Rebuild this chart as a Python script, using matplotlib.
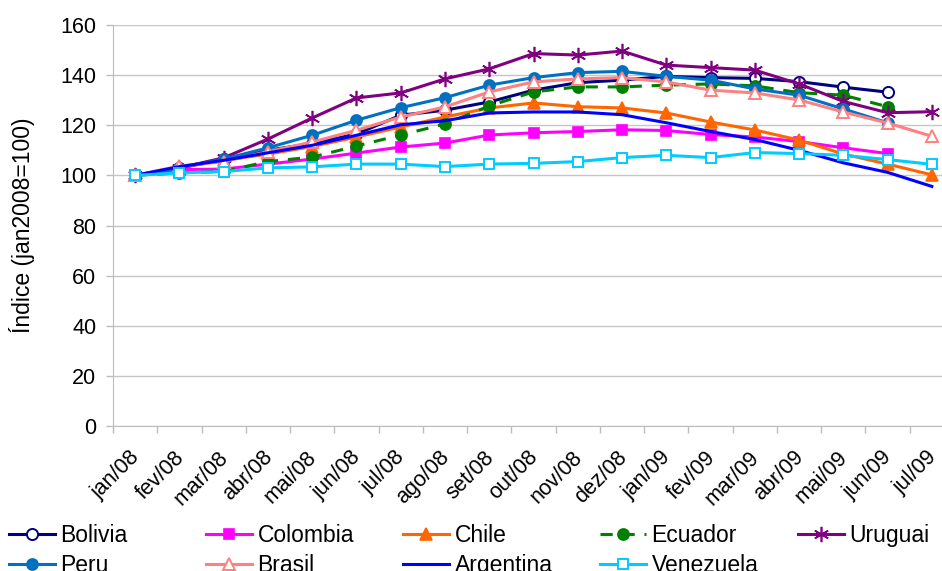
import matplotlib
matplotlib.use("Agg")
import matplotlib.pyplot as plt
import matplotlib.transforms as mtransforms
import numpy as np

plt.rcParams['font.family'] = ['Liberation Sans', 'DejaVu Sans']

months = ['jan/08', 'fev/08', 'mar/08', 'abr/08', 'mai/08', 'jun/08', 'jul/08',
          'ago/08', 'set/08', 'out/08', 'nov/08', 'dez/08', 'jan/09', 'fev/09',
          'mar/09', 'abr/09', 'mai/09', 'jun/09', 'jul/09']

bolivia = [100, 103, 106.5, 110, 112.7, 116.5, 124, 126, 129.3, 134, 137, 138,
           139.5, 139, 138.7, 137.4, 135.2, 133.2, None]
colombia = [100, 102.3, 102.5, 104.5, 106.5, 108.9, 111.3, 112.9, 116.1, 117,
            117.5, 118.2, 117.9, 116.3, 115.3, 113.5, 111, 108.7, None]
chile = [100, 103, 106, 108.5, 111.5, 115.3, 119.3, 123.3, 126.9, 128.9, 127.4,
         126.9, 124.9, 121.3, 118.1, 114.1, 108.5, 104.5, 100.2]
ecuador = [100, 101, 101.6, 105.5, 107.3, 111.7, 116.1, 120.5, 127.7, 133.3,
           135.3, 135.3, 136, 136.5, 135.7, 133, 132, 127.4, None]
uruguai = [100, 103, 107, 114.5, 122.9, 130.9, 132.9, 138.5, 142.5, 148.6, 148,
           149.6, 144, 143, 142, 136.5, 129.5, 125, 125.4]
peru = [100, 103, 106.5, 111, 116, 122, 127, 131, 136, 139, 141, 141.5, 139.5,
        138, 134.5, 132, 126.5, 121, None]
brasil = [100, 103.7, 105.5, 109.5, 113.3, 118, 123.3, 127.3, 133.3, 137.3,
          138.5, 139, 137.3, 134, 132.9, 130.1, 125.3, 120.9, 115.6]
argentina = [100, 103.5, 106, 109, 112, 116, 120.2, 121.8, 124.9, 125.3, 125.3,
             124.2, 121, 117.5, 114.3, 110, 105, 101.2, 95.6]
venezuela = [100, 101, 101.5, 103, 103.4, 104.5, 104.5, 103.5, 104.5, 104.8,
             105.5, 107.1, 108, 107.1, 109.1, 108.7, 108, 106.3, 104.4]

# name, values, colour, marker, open marker, dashed
series = [
    ('Bolivia', bolivia, '#000080', 'o', True, False),
    ('Colombia', colombia, '#FF00FF', 's', False, False),
    ('Chile', chile, '#FF6600', '^', False, False),
    ('Ecuador', ecuador, '#008000', 'o', False, True),
    ('Uruguai', uruguai, '#800080', (6, 2, 0), False, False),
    ('Peru', peru, '#0070C0', 'o', False, False),
    ('Brasil', brasil, '#FF8080', '^', True, False),
    ('Argentina', argentina, '#0000FF', None, False, False),
    ('Venezuela', venezuela, '#00CCFF', 's', True, False),
]

fig = plt.figure(figsize=(9.42, 5.71), dpi=100)
ax = fig.add_axes([113 / 942, 145 / 571, 841 / 942, 401 / 571])

x = np.arange(len(months))
handles = {}
for name, vals, color, marker, hollow, dashed in series:
    y = np.array([np.nan if v is None else v for v in vals], dtype=float)
    ms = 8
    if marker == 's':
        ms = 7
    if marker == '^':
        ms = 8.5
    if isinstance(marker, tuple):
        ms = 11
    line, = ax.plot(x, y, color=color, lw=2.2, marker=marker, ms=ms,
                    mfc='white' if hollow else color, mec=color,
                    mew=1.4 if hollow else 1.2,
                    linestyle=(0, (4, 3.2)) if dashed else '-', label=name)
    handles[name] = line

ax.set_xlim(-0.5, len(months) - 0.5)
ax.set_ylim(0, 160)
ax.set_yticks(np.arange(0, 161, 20))
ax.yaxis.grid(True, color='#C6C6C6', lw=1)
ax.set_axisbelow(True)

ax.set_xticks(x)
ax.set_xticks(np.arange(-0.5, len(months), 1), minor=True)
ax.set_xticklabels(months, rotation=45, ha='right', va='top',
                   rotation_mode='anchor', fontsize=15.5)
ax.tick_params(axis='x', which='major', length=0, pad=15)
ax.tick_params(axis='x', which='minor', length=5, color='#BDBDBD', width=1)
ax.tick_params(axis='y', length=5, color='#BDBDBD', width=1, labelsize=15.5, pad=7)
shift = mtransforms.ScaledTranslation(-6 / 100, 0, fig.dpi_scale_trans)
for lab in ax.get_xticklabels():
    lab.set_transform(lab.get_transform() + shift)

for side in ['top', 'right']:
    ax.spines[side].set_visible(False)
for side in ['left', 'bottom']:
    ax.spines[side].set_color('#BDBDBD')

ax.set_ylabel('Índice (jan2008=100)', fontsize=16.5, labelpad=18)

# legend: five equal-width columns, filled row by row
rows = [['Bolivia', 'Colombia', 'Chile', 'Ecuador', 'Uruguai'],
        ['Peru', 'Brasil', 'Argentina', 'Venezuela']]
col_x = [9, 206, 403, 600, 798]
for c in range(5):
    names = [r[c] for r in rows if c < len(r)]
    fig.legend([handles[n] for n in names], names, loc='upper left',
               bbox_to_anchor=(col_x[c] / 942, 1 - 524 / 571),
               frameon=False, fontsize=16.5, handlelength=2.0,
               handletextpad=0.25, labelspacing=0.3, borderpad=0,
               borderaxespad=0)

fig.savefig('out.png', dpi=100)
